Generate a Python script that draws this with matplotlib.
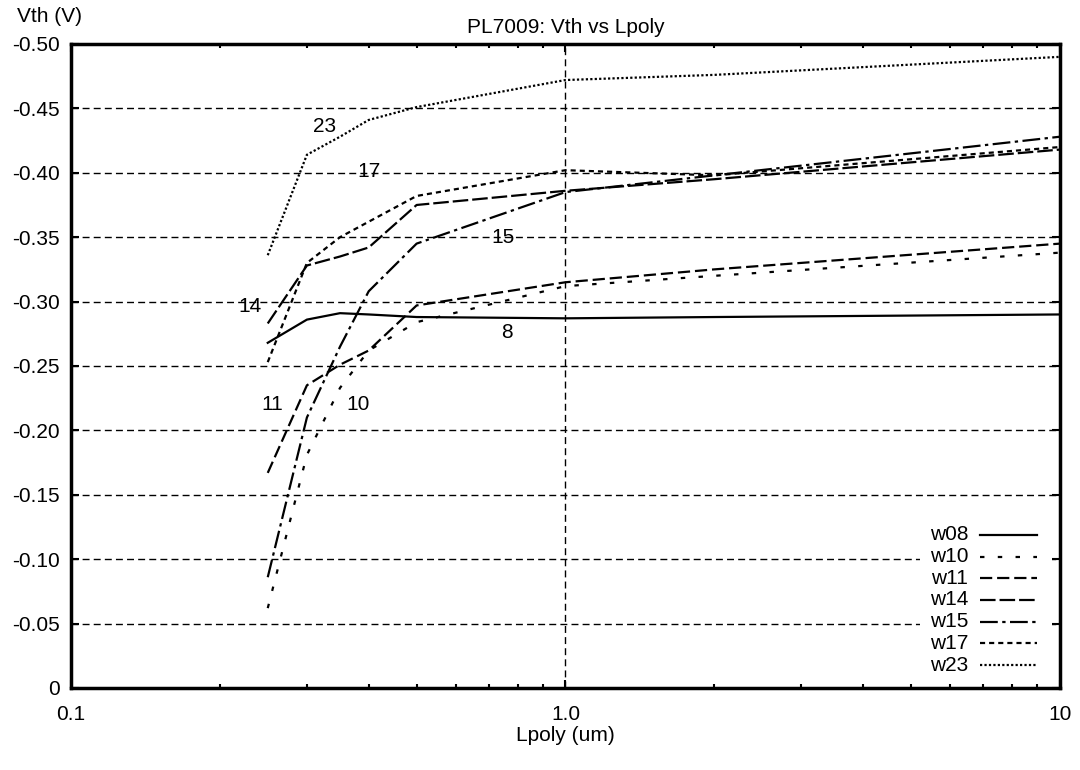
import numpy as np
import matplotlib
matplotlib.use('Agg')
import matplotlib.pyplot as plt
from matplotlib.lines import Line2D
from matplotlib.patches import Rectangle
from matplotlib.ticker import FixedLocator, FuncFormatter, LogLocator, NullFormatter

plt.rcParams['font.family'] = ['Liberation Sans', 'DejaVu Sans']

# Lpoly (um) sample points
lpoly = [0.25, 0.3, 0.35, 0.4, 0.5, 1.0, 2.0, 10.0]

# |Vth| (V) per width (plotted as negative values)
w08 = [0.268, 0.286, 0.291, 0.290, 0.288, 0.287, 0.288, 0.290]
w10 = [0.062, 0.181, 0.233, 0.262, 0.284, 0.312, 0.320, 0.338]
w11 = [0.167, 0.235, 0.251, 0.262, 0.297, 0.315, 0.325, 0.345]
w14 = [0.283, 0.328, 0.335, 0.342, 0.375, 0.386, 0.395, 0.418]
w15 = [0.086, 0.210, 0.265, 0.308, 0.345, 0.385, 0.398, 0.428]
w17 = [0.253, 0.330, 0.350, 0.362, 0.382, 0.402, 0.398, 0.420]
w23 = [0.336, 0.414, 0.428, 0.441, 0.451, 0.472, 0.476, 0.490]

names = ['w08', 'w10', 'w11', 'w14', 'w15', 'w17', 'w23']
series = [w08, w10, w11, w14, w15, w17, w23]
styles = ['-', (0, (2, 6)), (0, (5.5, 2.2)), (0, (7, 1.8)), (0, (8, 2, 1.5, 2)),
          (0, (2.3, 1.8)), (0, (1, 1))]

# curve labels drawn next to the lines: (text, x, |Vth|)
curve_labels = [('23', 0.326, 0.436), ('17', 0.40, 0.401), ('15', 0.747, 0.350),
                ('14', 0.230, 0.296), ('8', 0.762, 0.276), ('11', 0.255, 0.220),
                ('10', 0.380, 0.220)]

FS = 15

fig = plt.figure(figsize=(10.8, 7.7), dpi=100)
ax = fig.add_axes([0.0657, 0.1065, 0.9158, 0.8364])

for name, vals, ls in zip(names, series, styles):
    ax.plot(lpoly, -np.array(vals), color='black', linestyle=ls, linewidth=1.6, label=name)

for txt, x, v in curve_labels:
    ax.text(x, -v, txt, fontsize=FS, ha='center', va='center')

ax.set_xscale('log')
ax.set_xlim(0.1, 10)
ax.set_ylim(0, -0.5)

ax.xaxis.set_major_locator(FixedLocator([0.1, 1.0, 10]))
ax.xaxis.set_major_formatter(FuncFormatter(lambda v, p: {0.1: '0.1', 1.0: '1.0', 10: '10'}.get(round(v, 3), '')))
ax.xaxis.set_minor_locator(LogLocator(base=10, subs=np.arange(2, 10)))
ax.xaxis.set_minor_formatter(NullFormatter())

yt = np.arange(0, -0.501, -0.05)
ax.yaxis.set_major_locator(FixedLocator(yt))
ax.yaxis.set_major_formatter(FuncFormatter(lambda v, p: '0' if abs(v) < 1e-9 else '%.2f' % v))

ax.tick_params(which='both', direction='in', top=True, right=True, labelsize=FS, width=1.5)
ax.tick_params(which='major', length=6)
ax.tick_params(axis='x', which='major', pad=12)
ax.tick_params(axis='y', which='major', pad=8)
ax.tick_params(which='minor', length=3)

ax.grid(True, which='major', axis='both', color='black', linestyle=(0, (5, 3)), linewidth=1.0)
for s in ax.spines.values():
    s.set_linewidth(2.5)

ax.set_title('PL7009: Vth vs Lpoly', fontsize=FS, pad=8)
ax.set_xlabel('Lpoly (um)', fontsize=FS, labelpad=2)
fig.text(0.046, 0.978, 'Vth (V)', fontsize=FS, ha='center', va='center')

# legend in the gnuplot way: name right-aligned, line sample to its right
tr = ax.transAxes
ax.add_patch(Rectangle((0.858, 0.016), 0.134, 0.233, transform=tr, facecolor='white',
                       edgecolor='none', zorder=2.5))
for i, (name, ls) in enumerate(zip(names, styles)):
    yy = 0.2376 - i * 0.03365
    ax.text(0.907, yy, name, transform=tr, fontsize=FS, ha='right', va='center', zorder=3)
    ax.add_line(Line2D([0.919, 0.977], [yy, yy], transform=tr, color='black',
                       linestyle=ls, linewidth=1.6, zorder=3))

fig.savefig('out.png', dpi=100)
